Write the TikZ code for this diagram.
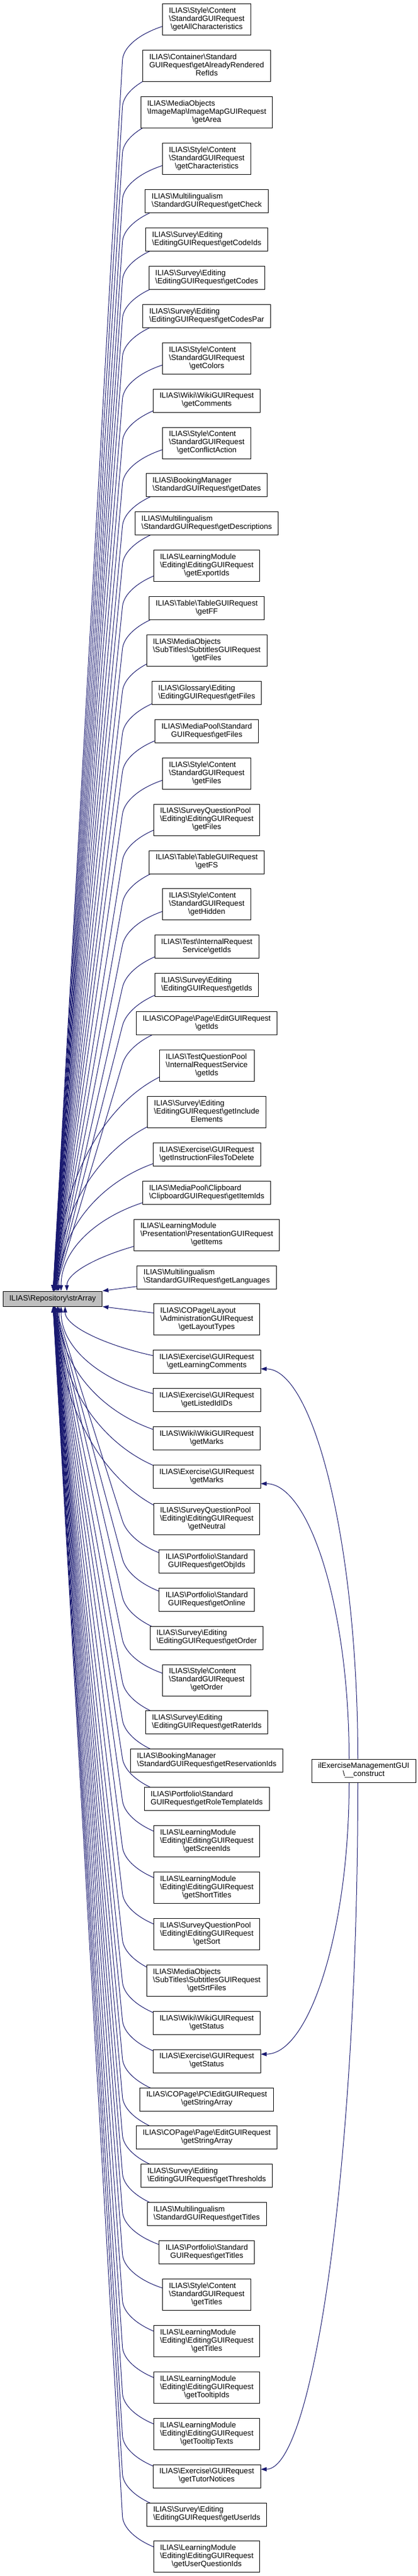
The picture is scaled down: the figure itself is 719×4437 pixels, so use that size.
\documentclass[tikz,border=0pt]{standalone}
\usepackage{fontspec}
\newfontfamily\labfont{Liberation Sans}
\usetikzlibrary{calc,arrows.meta,backgrounds}
\definecolor{edgeblue}{HTML}{191970}
\definecolor{grayfill}{HTML}{BFBFBF}
\newcommand\bsl{\textbackslash}
\newcommand\lst[1]{\multicolumn{1}{@{}c@{}}{#1}}
\newcommand\callnode[4]{\node[#1] (#2) at (355.6,#3) {\begin{tabular}{@{}l@{}}#4\end{tabular}};}
\newcommand\farU[1]{\coordinate (m#1) at ($(#1.center)+(-145,70)$);
  \draw[callarrow] (#1.center) .. controls +(-80,0) and ($(m#1)!-35pt!(s)$) .. (m#1) -- (s);}
\newcommand\farD[1]{\coordinate (m#1) at ($(#1.center)+(-145,-70)$);
  \draw[callarrow] (#1.center) .. controls +(-80,0) and ($(m#1)!-35pt!(s)$) .. (m#1) -- (s);}
\newcommand\midU[4]{\draw[callarrow] (#1.center) .. controls +(-#3,0) and +(0,-#4) .. ([xshift=#2pt]s.north);}
\newcommand\midD[4]{\draw[callarrow] (#1.center) .. controls +(-#3,0) and +(0,#4) .. ([xshift=#2pt]s.south);}
\begin{document}
\begin{tikzpicture}[x=1pt,y=-1pt,
  fnbox/.style={draw=black, fill=white, line width=1pt, inner xsep=11pt, inner ysep=0pt,
    font=\labfont\fontsize{13.2}{14}\selectfont},
  twoline/.style={fnbox, minimum height=40pt},
  threeline/.style={fnbox, minimum height=54pt},
  callarrow/.style={draw=edgeblue, line width=1pt, -{Triangle[length=10pt,width=7pt]}}]
\useasboundingbox (0,0) rectangle (719,4437);

\node[fnbox, fill=grayfill, minimum height=26pt] (s) at (90.5,2237) {ILIAS\bsl Repository\bsl strArray};
\node[fnbox, minimum height=40pt] (r) at (625.5,3050) {\begin{tabular}{@{}l@{}}ilExerciseManagementGUI\\\lst{\bsl\_\_construct}\end{tabular}};

\callnode{threeline}{n1}{34}{ILIAS\bsl Style\bsl Content\\\bsl StandardGUIRequest\\\lst{\bsl getAllCharacteristics}}
\callnode{threeline}{n2}{113.9}{ILIAS\bsl Container\bsl Standard\\GUIRequest\bsl getAlreadyRendered\\\lst{RefIds}}
\callnode{threeline}{n3}{193.8}{ILIAS\bsl MediaObjects\\\bsl ImageMap\bsl ImageMapGUIRequest\\\lst{\bsl getArea}}
\callnode{threeline}{n4}{273.7}{ILIAS\bsl Style\bsl Content\\\bsl StandardGUIRequest\\\lst{\bsl getCharacteristics}}
\callnode{twoline}{n5}{346.6}{ILIAS\bsl Multilingualism\\\lst{\bsl StandardGUIRequest\bsl getCheck}}
\callnode{twoline}{n6}{412.5}{ILIAS\bsl Survey\bsl Editing\\\lst{\bsl EditingGUIRequest\bsl getCodeIds}}
\callnode{twoline}{n7}{478.4}{ILIAS\bsl Survey\bsl Editing\\\lst{\bsl EditingGUIRequest\bsl getCodes}}
\callnode{twoline}{n8}{544.3}{ILIAS\bsl Survey\bsl Editing\\\lst{\bsl EditingGUIRequest\bsl getCodesPar}}
\callnode{threeline}{n9}{617.2}{ILIAS\bsl Style\bsl Content\\\bsl StandardGUIRequest\\\lst{\bsl getColors}}
\callnode{twoline}{n10}{690.1}{ILIAS\bsl Wiki\bsl WikiGUIRequest\\\lst{\bsl getComments}}
\callnode{threeline}{n11}{763.0}{ILIAS\bsl Style\bsl Content\\\bsl StandardGUIRequest\\\lst{\bsl getConflictAction}}
\callnode{twoline}{n12}{835.9}{ILIAS\bsl BookingManager\\\lst{\bsl StandardGUIRequest\bsl getDates}}
\callnode{twoline}{n13}{901.8}{ILIAS\bsl Multilingualism\\\lst{\bsl StandardGUIRequest\bsl getDescriptions}}
\callnode{threeline}{n14}{974.7}{ILIAS\bsl LearningModule\\\bsl Editing\bsl EditingGUIRequest\\\lst{\bsl getExportIds}}
\callnode{twoline}{n15}{1047.6}{ILIAS\bsl Table\bsl TableGUIRequest\\\lst{\bsl getFF}}
\callnode{threeline}{n16}{1120.5}{ILIAS\bsl MediaObjects\\\bsl SubTitles\bsl SubtitlesGUIRequest\\\lst{\bsl getFiles}}
\callnode{twoline}{n17}{1193.4}{ILIAS\bsl Glossary\bsl Editing\\\lst{\bsl EditingGUIRequest\bsl getFiles}}
\callnode{twoline}{n18}{1259.3}{ILIAS\bsl MediaPool\bsl Standard\\\lst{GUIRequest\bsl getFiles}}
\callnode{threeline}{n19}{1332.2}{ILIAS\bsl Style\bsl Content\\\bsl StandardGUIRequest\\\lst{\bsl getFiles}}
\callnode{threeline}{n20}{1412.1}{ILIAS\bsl SurveyQuestionPool\\\bsl Editing\bsl EditingGUIRequest\\\lst{\bsl getFiles}}
\callnode{twoline}{n21}{1485.0}{ILIAS\bsl Table\bsl TableGUIRequest\\\lst{\bsl getFS}}
\callnode{threeline}{n22}{1557.9}{ILIAS\bsl Style\bsl Content\\\bsl StandardGUIRequest\\\lst{\bsl getHidden}}
\callnode{twoline}{n23}{1630.8}{ILIAS\bsl Test\bsl InternalRequest\\\lst{Service\bsl getIds}}
\callnode{twoline}{n24}{1696.7}{ILIAS\bsl Survey\bsl Editing\\\lst{\bsl EditingGUIRequest\bsl getIds}}
\callnode{twoline}{n25}{1762.6}{ILIAS\bsl COPage\bsl Page\bsl EditGUIRequest\\\lst{\bsl getIds}}
\callnode{threeline}{n26}{1835.5}{ILIAS\bsl TestQuestionPool\\\bsl InternalRequestService\\\lst{\bsl getIds}}
\callnode{threeline}{n27}{1915.4}{ILIAS\bsl Survey\bsl Editing\\\bsl EditingGUIRequest\bsl getInclude\\\lst{Elements}}
\callnode{twoline}{n28}{1988.3}{ILIAS\bsl Exercise\bsl GUIRequest\\\lst{\bsl getInstructionFilesToDelete}}
\callnode{twoline}{n29}{2054.2}{ILIAS\bsl MediaPool\bsl Clipboard\\\lst{\bsl ClipboardGUIRequest\bsl getItemIds}}
\callnode{threeline}{n30}{2127.1}{ILIAS\bsl LearningModule\\\bsl Presentation\bsl PresentationGUIRequest\\\lst{\bsl getItems}}
\callnode{twoline}{n31}{2200.0}{ILIAS\bsl Multilingualism\\\lst{\bsl StandardGUIRequest\bsl getLanguages}}
\callnode{threeline}{n32}{2272.9}{ILIAS\bsl COPage\bsl Layout\\\bsl AdministrationGUIRequest\\\lst{\bsl getLayoutTypes}}
\callnode{twoline}{n33}{2345.8}{ILIAS\bsl Exercise\bsl GUIRequest\\\lst{\bsl getLearningComments}}
\callnode{twoline}{n34}{2411.7}{ILIAS\bsl Exercise\bsl GUIRequest\\\lst{\bsl getListedIdIDs}}
\callnode{twoline}{n35}{2477.6}{ILIAS\bsl Wiki\bsl WikiGUIRequest\\\lst{\bsl getMarks}}
\callnode{twoline}{n36}{2543.5}{ILIAS\bsl Exercise\bsl GUIRequest\\\lst{\bsl getMarks}}
\callnode{threeline}{n37}{2616.4}{ILIAS\bsl SurveyQuestionPool\\\bsl Editing\bsl EditingGUIRequest\\\lst{\bsl getNeutral}}
\callnode{twoline}{n38}{2689.3}{ILIAS\bsl Portfolio\bsl Standard\\\lst{GUIRequest\bsl getObjIds}}
\callnode{twoline}{n39}{2755.2}{ILIAS\bsl Portfolio\bsl Standard\\\lst{GUIRequest\bsl getOnline}}
\callnode{twoline}{n40}{2821.1}{ILIAS\bsl Survey\bsl Editing\\\lst{\bsl EditingGUIRequest\bsl getOrder}}
\callnode{threeline}{n41}{2894.0}{ILIAS\bsl Style\bsl Content\\\bsl StandardGUIRequest\\\lst{\bsl getOrder}}
\callnode{twoline}{n42}{2966.9}{ILIAS\bsl Survey\bsl Editing\\\lst{\bsl EditingGUIRequest\bsl getRaterIds}}
\callnode{twoline}{n43}{3032.8}{ILIAS\bsl BookingManager\\\lst{\bsl StandardGUIRequest\bsl getReservationIds}}
\callnode{twoline}{n44}{3098.7}{ILIAS\bsl Portfolio\bsl Standard\\\lst{GUIRequest\bsl getRoleTemplateIds}}
\callnode{threeline}{n45}{3171.6}{ILIAS\bsl LearningModule\\\bsl Editing\bsl EditingGUIRequest\\\lst{\bsl getScreenIds}}
\callnode{threeline}{n46}{3251.5}{ILIAS\bsl LearningModule\\\bsl Editing\bsl EditingGUIRequest\\\lst{\bsl getShortTitles}}
\callnode{threeline}{n47}{3331.4}{ILIAS\bsl SurveyQuestionPool\\\bsl Editing\bsl EditingGUIRequest\\\lst{\bsl getSort}}
\callnode{threeline}{n48}{3411.3}{ILIAS\bsl MediaObjects\\\bsl SubTitles\bsl SubtitlesGUIRequest\\\lst{\bsl getSrtFiles}}
\callnode{twoline}{n49}{3484.2}{ILIAS\bsl Wiki\bsl WikiGUIRequest\\\lst{\bsl getStatus}}
\callnode{twoline}{n50}{3550.1}{ILIAS\bsl Exercise\bsl GUIRequest\\\lst{\bsl getStatus}}
\callnode{twoline}{n51}{3616.0}{ILIAS\bsl COPage\bsl PC\bsl EditGUIRequest\\\lst{\bsl getStringArray}}
\callnode{twoline}{n52}{3681.9}{ILIAS\bsl COPage\bsl Page\bsl EditGUIRequest\\\lst{\bsl getStringArray}}
\callnode{twoline}{n53}{3747.8}{ILIAS\bsl Survey\bsl Editing\\\lst{\bsl EditingGUIRequest\bsl getThresholds}}
\callnode{twoline}{n54}{3813.7}{ILIAS\bsl Multilingualism\\\lst{\bsl StandardGUIRequest\bsl getTitles}}
\callnode{twoline}{n55}{3879.6}{ILIAS\bsl Portfolio\bsl Standard\\\lst{GUIRequest\bsl getTitles}}
\callnode{threeline}{n56}{3952.5}{ILIAS\bsl Style\bsl Content\\\bsl StandardGUIRequest\\\lst{\bsl getTitles}}
\callnode{threeline}{n57}{4032.4}{ILIAS\bsl LearningModule\\\bsl Editing\bsl EditingGUIRequest\\\lst{\bsl getTitles}}
\callnode{threeline}{n58}{4112.3}{ILIAS\bsl LearningModule\\\bsl Editing\bsl EditingGUIRequest\\\lst{\bsl getTooltipIds}}
\callnode{threeline}{n59}{4192.2}{ILIAS\bsl LearningModule\\\bsl Editing\bsl EditingGUIRequest\\\lst{\bsl getTooltipTexts}}
\callnode{twoline}{n60}{4265.1}{ILIAS\bsl Exercise\bsl GUIRequest\\\lst{\bsl getTutorNotices}}
\callnode{twoline}{n61}{4331.0}{ILIAS\bsl Survey\bsl Editing\\\lst{\bsl EditingGUIRequest\bsl getUserIds}}
\callnode{threeline}{n62}{4403.9}{ILIAS\bsl LearningModule\\\bsl Editing\bsl EditingGUIRequest\\\lst{\bsl getUserQuestionIds}}

\begin{pgfonlayer}{background}
\farU{n1}\farU{n2}\farU{n3}\farU{n4}\farU{n5}\farU{n6}\farU{n7}\farU{n8}\farU{n9}\farU{n10}
\farU{n11}\farU{n12}\farU{n13}\farU{n14}\farU{n15}\farU{n16}\farU{n17}\farU{n18}\farU{n19}\farU{n20}
\farU{n21}\farU{n22}\farU{n23}\farU{n24}\farU{n25}
\midU{n26}{7}{142}{214}
\midU{n27}{8.5}{141}{170}
\midU{n28}{10.5}{139}{130}
\midU{n29}{14.5}{137}{93}
\midU{n30}{24.5}{100}{45}
\draw[callarrow] (n31.center) -- (s.north east);
\draw[callarrow] (n32.center) -- (s.south east);
\midD{n33}{21.5}{100}{45}
\midD{n34}{14.5}{137}{89}
\midD{n35}{11}{139}{125}
\midD{n36}{9}{141}{161}
\midD{n37}{8}{141}{201}
\farD{n38}\farD{n39}\farD{n40}\farD{n41}\farD{n42}\farD{n43}\farD{n44}\farD{n45}\farD{n46}\farD{n47}
\farD{n48}\farD{n49}\farD{n50}\farD{n51}\farD{n52}\farD{n53}\farD{n54}\farD{n55}\farD{n56}\farD{n57}
\farD{n58}\farD{n59}\farD{n60}\farD{n61}\farD{n62}
\draw[callarrow] ([xshift=-10pt]r.north) .. controls +(0,-370) and +(91,0) .. ([yshift=-12pt]n33.east);
\draw[callarrow] ([xshift=-25pt]r.north) .. controls +(0,-261) and +(83,0) .. ([yshift=-12pt]n36.east);
\draw[callarrow] ([xshift=-25pt]r.south) .. controls +(0,257) and +(83,0) .. ([yshift=12pt]n50.east);
\draw[callarrow] ([xshift=-10pt]r.south) .. controls +(0,651) and +(91,0) .. ([yshift=12pt]n60.east);
\end{pgfonlayer}
\end{tikzpicture}
\end{document}
